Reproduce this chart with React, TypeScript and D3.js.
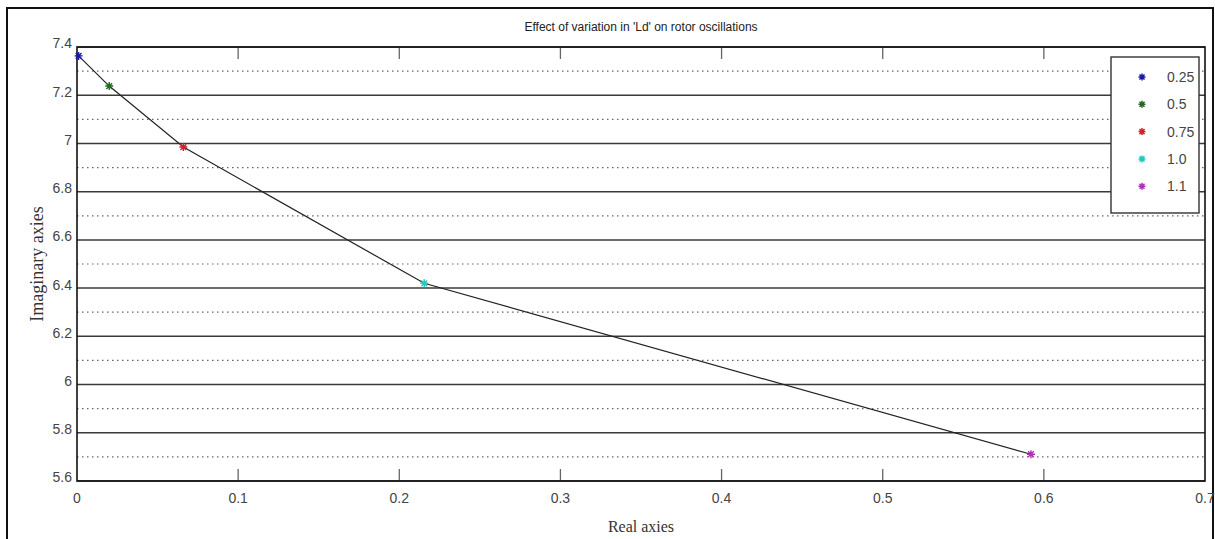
import { useEffect, useRef } from 'react';
import * as d3 from 'd3';

// Ld values and their rotor eigenvalue (real, imaginary) parts
const ldLabels = ['0.25', '0.5', '0.75', '1.0', '1.1'];
const realVals = [0.001, 0.02, 0.066, 0.2155, 0.592];
const imagVals = [7.363, 7.238, 6.985, 6.42, 5.711];
const markerColors = ['#1a1aa8', '#1f6b1f', '#d02030', '#20c8c0', '#b030b8'];

const xTicks = [0, 0.1, 0.2, 0.3, 0.4, 0.5, 0.6, 0.7];
const yMajor = [5.6, 5.8, 6, 6.2, 6.4, 6.6, 6.8, 7, 7.2, 7.4];
const yMinor = [5.7, 5.9, 6.1, 6.3, 6.5, 6.7, 6.9, 7.1, 7.3];

const starPath = (r: number) => {
  const d = r * 0.72;
  return `M${-r},0L${r},0M0,${-r}L0,${r}M${-d},${-d}L${d},${d}M${-d},${d}L${d},${-d}`;
};

export default function App() {
  const ref = useRef<SVGSVGElement>(null);

  useEffect(() => {
    if (!ref.current) return;
    const W = 1215, H = 539;
    const m = { left: 77, right: 10, top: 47, bottom: 58 };
    const svg = d3.select(ref.current).attr('width', W).attr('height', H);
    svg.selectAll('*').remove();

    svg.append('rect').attr('width', W).attr('height', H).attr('fill', '#fff');
    // outer figure frame
    svg.append('rect').attr('x', 7).attr('y', 8).attr('width', 1206).attr('height', 545)
      .attr('fill', 'none').attr('stroke', '#111').attr('stroke-width', 2);

    const x = d3.scaleLinear().domain([0, 0.7]).range([m.left, W - m.right]);
    const y = d3.scaleLinear().domain([5.6, 7.4]).range([H - m.bottom, m.top]);
    const [x0, x1] = x.range();
    const [yb, yt] = y.range();

    const g = svg.append('g');

    // dotted minor grid
    g.selectAll('.minor').data(yMinor).enter().append('line')
      .attr('x1', x0).attr('x2', x1).attr('y1', d => y(d)).attr('y2', d => y(d))
      .attr('stroke', '#666').attr('stroke-width', 1.2).attr('stroke-dasharray', '1.5,3.5');
    // solid major grid
    g.selectAll('.major').data(yMajor).enter().append('line')
      .attr('x1', x0).attr('x2', x1).attr('y1', d => y(d)).attr('y2', d => y(d))
      .attr('stroke', '#3a3a3a').attr('stroke-width', 1.5);

    // x ticks inside top and bottom
    xTicks.slice(1, -1).forEach(t => {
      g.append('line').attr('x1', x(t)).attr('x2', x(t)).attr('y1', yb).attr('y2', yb - 12)
        .attr('stroke', '#666').attr('stroke-width', 1.3);
      g.append('line').attr('x1', x(t)).attr('x2', x(t)).attr('y1', yt).attr('y2', yt + 12)
        .attr('stroke', '#666').attr('stroke-width', 1.3);
    });

    // plot box
    g.append('rect').attr('x', x0).attr('y', yt).attr('width', x1 - x0).attr('height', yb - yt)
      .attr('fill', 'none').attr('stroke', '#111').attr('stroke-width', 1.6);

    const tickFont = 'Liberation Sans, Arial, sans-serif';
    g.selectAll('.xl').data(xTicks).enter().append('text')
      .attr('x', d => x(d)).attr('y', yb + 22).attr('text-anchor', 'middle')
      .attr('font-family', tickFont).attr('font-size', 14).attr('fill', '#444')
      .text(d => d3.format('~g')(d));
    g.selectAll('.yl').data(yMajor).enter().append('text')
      .attr('x', x0 - 5).attr('y', d => y(d)).attr('dy', '0.1em').attr('text-anchor', 'end')
      .attr('font-family', tickFont).attr('font-size', 14).attr('fill', '#444')
      .text(d => d3.format('~g')(d));

    // curve through the eigenvalues
    const pts = realVals.map((r, i) => [r, imagVals[i]] as [number, number]);
    g.append('path').attr('d', d3.line().x(d => x(d[0])).y(d => y(d[1]))(pts)!)
      .attr('fill', 'none').attr('stroke', '#222').attr('stroke-width', 1.2);
    pts.forEach((p, i) => {
      g.append('path').attr('d', starPath(4))
        .attr('transform', `translate(${x(p[0])},${y(p[1])})`)
        .attr('stroke', markerColors[i]).attr('stroke-width', 1.4).attr('fill', 'none');
    });

    // title + axis labels
    svg.append('text').attr('x', (x0 + x1) / 2).attr('y', 31).attr('text-anchor', 'middle')
      .attr('font-family', tickFont).attr('font-size', 12).attr('fill', '#222')
      .text("Effect of variation in 'Ld' on rotor oscillations");
    svg.append('text').attr('x', (x0 + x1) / 2).attr('y', 532).attr('text-anchor', 'middle')
      .attr('font-family', 'Liberation Serif, Times New Roman, serif').attr('font-size', 16).attr('fill', '#333')
      .text('Real axies');
    svg.append('text').attr('transform', `translate(43,${(yt + yb) / 2}) rotate(-90)`)
      .attr('text-anchor', 'middle')
      .attr('font-family', 'Liberation Serif, Times New Roman, serif').attr('font-size', 18).attr('fill', '#333')
      .text('Imaginary axies');

    // legend
    const lg = svg.append('g').attr('transform', 'translate(1111,57)');
    lg.append('rect').attr('width', 88).attr('height', 156)
      .attr('fill', '#fff').attr('stroke', '#333').attr('stroke-width', 1.4);
    ldLabels.forEach((lab, i) => {
      const ly = 20 + i * 27.3;
      lg.append('path').attr('d', starPath(3.5)).attr('transform', `translate(31,${ly})`)
        .attr('stroke', markerColors[i]).attr('stroke-width', 1.5).attr('fill', 'none');
      lg.append('text').attr('x', 56).attr('y', ly).attr('dy', '0.35em')
        .attr('font-family', tickFont).attr('font-size', 14).attr('fill', '#444').text(lab);
    });
  }, []);

  return <svg ref={ref} style={{ display: 'block', position: 'absolute', left: 0, top: 0 }} />;
}
